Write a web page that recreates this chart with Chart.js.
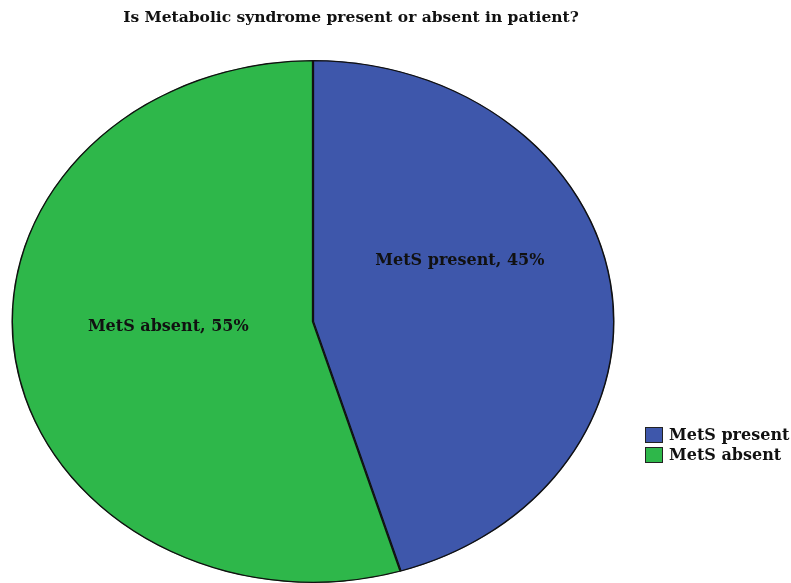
<!DOCTYPE html>
<html><head><meta charset="utf-8">
<script src="https://cdn.jsdelivr.net/npm/chart.js@4.4.1/dist/chart.umd.min.js"></script>
<style>html,body{margin:0;padding:0;background:#fff;}#wrap{width:791px;height:583px;position:relative;}</style>
</head><body><div id="wrap"><canvas id="c" width="791" height="583"></canvas></div>
<script>
const titleText = "Is Metabolic syndrome present or absent in patient?";
const categories = ["MetS present", "MetS absent"];
const percentages = [45.3, 54.7];
const colors = ["#3e57ab", "#2eb74a"];

const SX = 1.153; // horizontal stretch for elliptical pie
const labelOffsets = [[0.487, -0.231], [-0.48, 0.021]]; // fraction of rx, ry
const FONT = "DejaVu Serif";

const ellipse = {
  id: 'ellipse',
  beforeDatasetsDraw(chart) {
    const arc = chart.getDatasetMeta(0).data[0];
    const ctx = chart.ctx;
    ctx.save();
    ctx.translate(arc.x, arc.y);
    ctx.scale(SX, 1);
    ctx.translate(-arc.x, -arc.y);
  },
  afterDatasetsDraw(chart) {
    const ctx = chart.ctx;
    ctx.restore();
    const meta = chart.getDatasetMeta(0);
    ctx.save();
    ctx.fillStyle = '#111';
    ctx.font = 'bold 16px "' + FONT + '"';
    ctx.textAlign = 'center';
    ctx.textBaseline = 'middle';
    meta.data.forEach((a, i) => {
      const r = a.outerRadius;
      const x = a.x + labelOffsets[i][0] * r * SX;
      const y = a.y + labelOffsets[i][1] * r;
      ctx.fillText(categories[i] + ', ' + Math.round(percentages[i]) + '%', x, y);
    });
    // title
    ctx.font = 'bold 15.5px "' + FONT + '"';
    ctx.fillText(titleText, 351, 18);
    // legend
    ctx.textAlign = 'left';
    ctx.font = 'bold 16px "' + FONT + '"';
    categories.forEach((c, i) => {
      const y = 427 + i * 20;
      ctx.fillStyle = colors[i];
      ctx.fillRect(645, y, 18, 16);
      ctx.strokeStyle = '#222';
      ctx.lineWidth = 1;
      ctx.strokeRect(645.5, y + 0.5, 17, 15);
      ctx.fillStyle = '#111';
      ctx.fillText(c, 669, y + 8.5);
    });
    ctx.restore();
  }
};

new Chart(document.getElementById('c'), {
  type: 'pie',
  data: {
    labels: categories,
    datasets: [{
      data: percentages,
      backgroundColor: colors,
      borderColor: '#111',
      borderWidth: 1,
      borderAlign: 'inner'
    }]
  },
  options: {
    responsive: false,
    animation: false,
    layout: { padding: { left: 0, right: 165, top: 60, bottom: 0 } },
    plugins: { legend: { display: false }, tooltip: { enabled: false }, title: { display: false } }
  },
  plugins: [ellipse]
});
</script>
</body></html>
